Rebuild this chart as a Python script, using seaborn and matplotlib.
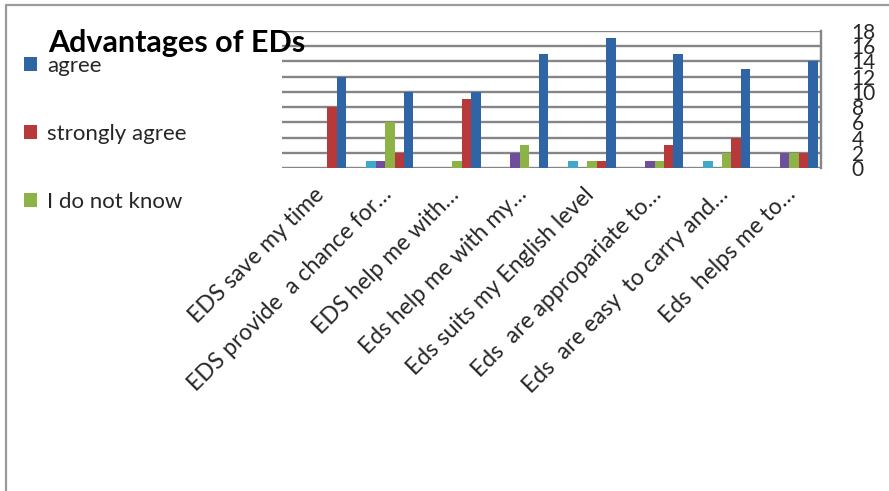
import matplotlib
matplotlib.use("Agg")
import matplotlib.pyplot as plt
import matplotlib.transforms as mtransforms
from matplotlib.patches import Patch
from matplotlib.lines import Line2D
import seaborn as sns
import pandas as pd

# Survey statements (x categories)
statements = [
    "EDS save my time",
    "EDS provide  a chance for…",
    "EDS help me with…",
    "Eds help me with my…",
    "Eds suits my English level",
    "Eds  are appropariate to…",
    "Eds  are easy  to carry and…",
    "Eds  helps me to…",
]

# Response counts per statement
strongly_disagree = [0, 1, 0, 0, 1, 0, 1, 0]
disagree = [0, 1, 0, 2, 0, 1, 0, 2]
dont_know = [0, 6, 1, 3, 1, 1, 2, 2]
strongly_agree = [8, 2, 9, 0, 1, 3, 4, 2]
agree = [12, 10, 10, 15, 17, 15, 13, 14]

responses = ["strongly disagree", "disagree", "I do not know", "strongly agree", "agree"]
y_ticks = [0, 2, 4, 6, 8, 10, 12, 14, 16, 18]

colors = {
    "strongly disagree": "#3FA9C9",
    "disagree": "#6F4F9C",
    "I do not know": "#8DB246",
    "strongly agree": "#B8393A",
    "agree": "#2F64A5",
}

series = [strongly_disagree, disagree, dont_know, strongly_agree, agree]
rows = []
for resp, vals in zip(responses, series):
    for stmt, v in zip(statements, vals):
        rows.append({"statement": stmt, "response": resp, "count": v})
df = pd.DataFrame(rows)

sns.set_theme(style="white")
plt.rcParams["font.family"] = ["Lato", "DejaVu Sans"]

W, H = 889, 491
fig = plt.figure(figsize=(W / 100, H / 100), dpi=100)
fig.patch.set_facecolor("white")

left, right, top, bottom = 282, 821, 30.7, 168.3
ax = fig.add_axes([left / W, 1 - bottom / H, (right - left) / W, (bottom - top) / H])

sns.barplot(
    data=df, x="statement", y="count", hue="response",
    hue_order=responses, order=statements, palette=colors,
    width=0.7, saturation=1, legend=False, ax=ax,
    edgecolor="none", zorder=3,
)

ax.set_xlim(-0.6, 7.4)
ax.set_ylim(0, 18)
ax.set_yticks(y_ticks)
ax.set_yticklabels([str(t) for t in y_ticks], fontsize=15)
ax.yaxis.tick_right()
ax.tick_params(axis="y", length=0, pad=22)
ax.tick_params(axis="x", length=0, pad=6)
ax.set_xlabel("")
ax.set_ylabel("")
ax.grid(axis="y", color="#858585", linewidth=1.7, zorder=0)
ax.set_axisbelow(True)
for side in ["left", "top", "bottom"]:
    ax.spines[side].set_visible(False)
ax.spines["right"].set_color("#858585")
ax.spines["right"].set_linewidth(1.7)

ax.set_xticks(range(len(statements)))
ax.set_xticklabels(statements, rotation=45, ha="right", va="top",
                   rotation_mode="anchor", fontsize=16.5)
shift = mtransforms.ScaledTranslation(-9 / 100, -7 / 100, fig.dpi_scale_trans)
for lab in ax.get_xticklabels():
    lab.set_transform(lab.get_transform() + shift)

# Title
fig.text(48 / W, 1 - 52 / H, "Advantages of EDs", fontsize=22,
         fontweight="bold", va="baseline", ha="left", color="black")

# Legend
handles = [Patch(facecolor=colors[r], edgecolor="none") for r in ["agree", "strongly agree", "I do not know"]]
fig.legend(handles, ["agree", "strongly agree", "I do not know"],
           loc="upper left", bbox_to_anchor=(24 / W, 1 - 56 / H),
           frameon=False, fontsize=16, handlelength=0.6, handleheight=0.6,
           handletextpad=0.45, labelspacing=2.15, borderpad=0, borderaxespad=0)

# Outer frame (left and top edges)
fig.add_artist(Line2D([6 / W, 6 / W, 1], [0, 1 - 5 / H, 1 - 5 / H],
                      transform=fig.transFigure, color="#9A9A9A", linewidth=1.6))

fig.savefig("out.png", dpi=100, facecolor="white")
